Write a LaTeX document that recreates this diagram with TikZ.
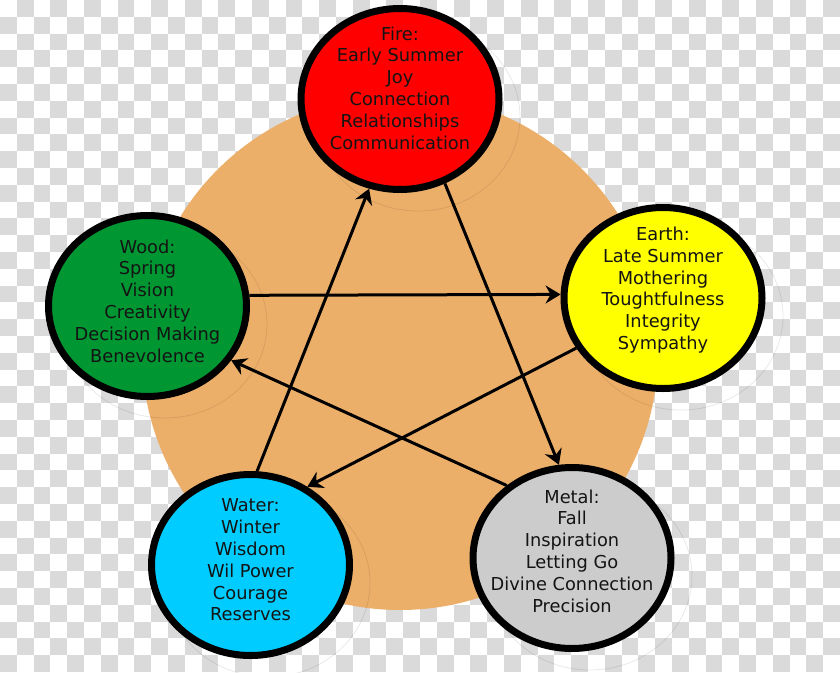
\documentclass[tikz,border=0pt]{standalone}
\usepackage{fontspec}
\setmainfont{DejaVu Sans}
\usetikzlibrary{shapes.geometric,arrows.meta}
\definecolor{orangebg}{RGB}{236,175,106}
\definecolor{checkgrey}{RGB}{218,218,218}
\definecolor{firered}{RGB}{255,0,0}
\definecolor{earthyellow}{RGB}{255,255,0}
\definecolor{woodgreen}{RGB}{0,150,50}
\definecolor{watercyan}{RGB}{0,204,255}
\definecolor{metalgrey}{RGB}{204,204,204}
\definecolor{textdark}{RGB}{20,20,20}
\begin{document}
\begin{tikzpicture}[x=1pt,y=-1pt,
  element/.style={ellipse, draw=black, line width=7pt, minimum width=198pt, minimum height=181pt, inner sep=0pt},
  elemtext/.style={align=center, text=textdark, font=\fontsize{17.8}{21.8}\selectfont, inner sep=0pt},
  flow/.style={line width=3pt, -{Stealth[length=15pt,width=18pt,inset=5pt]}},
  ghost/.style={draw=black, draw opacity=0.09, line width=0.8pt}
]
\useasboundingbox (0,0) rectangle (840,672);
% checkerboard background
\fill[white] (0,0) rectangle (840,672);
\foreach \i in {0,2,...,48}{
  \foreach \j in {1,3,...,39}{
    \fill[checkgrey] ({\i*16.8},{\j*16.8}) rectangle ++(16.8,16.8);
  }
}
\foreach \i in {1,3,...,49}{
  \foreach \j in {0,2,...,38}{
    \fill[checkgrey] ({\i*16.8},{\j*16.8}) rectangle ++(16.8,16.8);
  }
}
% orange disc
\fill[orangebg] (400,352) circle[radius=258];
% faint ghost outlines
\draw[ghost] (418,117) ellipse[x radius=102, y radius=94];
\draw[ghost] (165,324) ellipse[x radius=102, y radius=94];
\draw[ghost] (681,316) ellipse[x radius=102, y radius=94];
\draw[ghost] (268,583) ellipse[x radius=102, y radius=94];
\draw[ghost] (590,576) ellipse[x radius=102, y radius=94];
% element circles
\node[element, fill=firered] (fire) at (400,99) {};
\node[element, fill=woodgreen] (wood) at (147.5,306) {};
\node[element, fill=earthyellow] (earth) at (663,298) {};
\node[element, fill=watercyan] (water) at (250.5,565) {};
\node[element, fill=metalgrey] (metal) at (572,558) {};
% texts
\node[elemtext, yshift=11pt] (firetext) at (fire) {Fire:\\Early Summer\\Joy\\Connection\\Relationships\\Communication};
\node[elemtext, yshift=5pt] (woodtext) at (wood) {Wood:\\Spring\\Vision\\Creativity\\Decision Making\\Benevolence};
\node[elemtext, yshift=8pt] (earthtext) at (earth) {Earth:\\Late Summer\\Mothering\\Toughtfulness\\Integrity\\Sympathy};
\node[elemtext, yshift=5pt] (watertext) at (water) {Water:\\Winter\\Wisdom\\Wil Power\\Courage\\Reserves};
\node[elemtext, yshift=7pt] (metaltext) at (metal) {Metal:\\Fall\\Inspiration\\Letting Go\\Divine Connection\\Precision};
% connectors
\draw[flow] (wood.6) -- (earth.178);
\draw[flow] (earth.210) -- (water.54);
\draw[flow] (water.86) -- (fire.251);
\draw[flow] (fire.298) -- (metal.98);
\draw[flow] (metal.132) -- (wood.327);
\end{tikzpicture}
\end{document}
